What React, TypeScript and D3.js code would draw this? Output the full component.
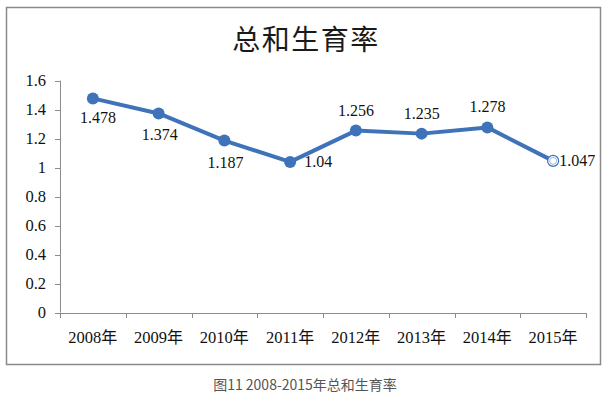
import * as d3 from 'd3'

const years = ['2008年', '2009年', '2010年', '2011年', '2012年', '2013年', '2014年', '2015年']
const tfr = [1.478, 1.374, 1.187, 1.04, 1.256, 1.235, 1.278, 1.047]
const labelText = ['1.478', '1.374', '1.187', '1.04', '1.256', '1.235', '1.278', '1.047']
const labelPos = ['belowRight', 'below', 'below', 'rightFar', 'above', 'above', 'above', 'right']
const yTicks = [0, 0.2, 0.4, 0.6, 0.8, 1, 1.2, 1.4, 1.6]

export default function App() {
  const width = 608
  const height = 398
  const left = 60
  const right = 586
  const top = 80.7
  const bottom = 312.7
  const blue = '#3f73b9'
  const axisGray = '#8c8c8c'
  const serif = '"Liberation Serif", "Times New Roman", serif'
  const cjk = '"Noto Sans CJK SC", sans-serif'

  const x = d3.scaleBand().domain(years).range([left, right])
  const y = d3.scaleLinear().domain([0, 1.6]).range([bottom, top])
  const cx = (i: number) => x(years[i])! + x.bandwidth() / 2

  const line = d3.line<number>()
    .x((_, i) => cx(i))
    .y(d => y(d))

  const boundaries = years.map(yr => x(yr)!).concat([right])

  return (
    <svg width={width} height={height} style={{ position: 'absolute', left: 0, top: 0 }}>
      <rect x={0} y={0} width={width} height={height} fill="#fff" />
      {/* chart frame */}
      <rect x={6.5} y={7.5} width={594} height={357} fill="#fff" stroke="#8a8a8a" strokeWidth={1.5} />

      <text x={306} y={50} textAnchor="middle" fontFamily={cjk} fontSize={28} letterSpacing={1.5} fill="#1a1a1a">总和生育率</text>

      {/* y axis */}
      <line x1={left + 0.5} x2={left + 0.5} y1={top} y2={bottom} stroke={axisGray} />
      {yTicks.map(t => (
        <g key={t}>
          <line x1={left - 5} x2={left} y1={Math.round(y(t)) + 0.5} y2={Math.round(y(t)) + 0.5} stroke={axisGray} />
          <text x={46} y={y(t) + 5.5} textAnchor="end" fontFamily={serif} fontSize={16.5} fill="#111">{t}</text>
        </g>
      ))}

      {/* x axis */}
      <line x1={left} x2={right} y1={Math.round(bottom) + 0.5} y2={Math.round(bottom) + 0.5} stroke={axisGray} />
      {boundaries.map((b, i) => (
        <line key={i} x1={Math.round(b) + 0.5} x2={Math.round(b) + 0.5} y1={Math.round(bottom)} y2={Math.round(bottom) + 5} stroke={axisGray} />
      ))}
      {years.map((yr, i) => (
        <text key={yr} x={cx(i)} y={343} textAnchor="middle" fill="#111" fontSize={16.5}>
          <tspan fontFamily={serif}>{yr.slice(0, 4)}</tspan>
          <tspan fontFamily={cjk} fontSize={16}>{yr.slice(4)}</tspan>
        </text>
      ))}

      {/* series */}
      <path d={line(tfr) ?? ''} fill="none" stroke={blue} strokeWidth={4} strokeLinejoin="round" />
      {tfr.map((v, i) => (
        i === tfr.length - 1
          ? <g key={i}>
              <circle cx={cx(i)} cy={y(v)} r={5.5} fill="#fff" stroke={blue} strokeWidth={1.2} />
              <circle cx={cx(i)} cy={y(v)} r={3.5} fill="#fff" stroke="#9db6dc" strokeWidth={1} />
            </g>
          : <circle key={i} cx={cx(i)} cy={y(v)} r={6} fill={blue} />
      ))}

      {/* data labels */}
      {tfr.map((v, i) => {
        const p = labelPos[i]
        let lx = cx(i)
        let ly = y(v)
        let anchor: 'start' | 'middle' | 'end' = 'middle'
        if (p === 'above') { ly -= 15 }
        else if (p === 'below') { lx += 1; ly += 27 }
        else if (p === 'belowRight') { lx += 5; ly += 25 }
        else if (p === 'right') { lx += 6; ly += 5; anchor = 'start' }
        else if (p === 'rightFar') { lx += 14; ly += 5; anchor = 'start' }
        return (
          <text key={i} x={lx} y={ly} textAnchor={anchor} fontFamily={serif} fontSize={16} fill="#111">{labelText[i]}</text>
        )
      })}

      <text x={305} y={390} textAnchor="middle" fontFamily={cjk} fontSize={14} fill="#555">图11 2008-2015年总和生育率</text>
    </svg>
  )
}
